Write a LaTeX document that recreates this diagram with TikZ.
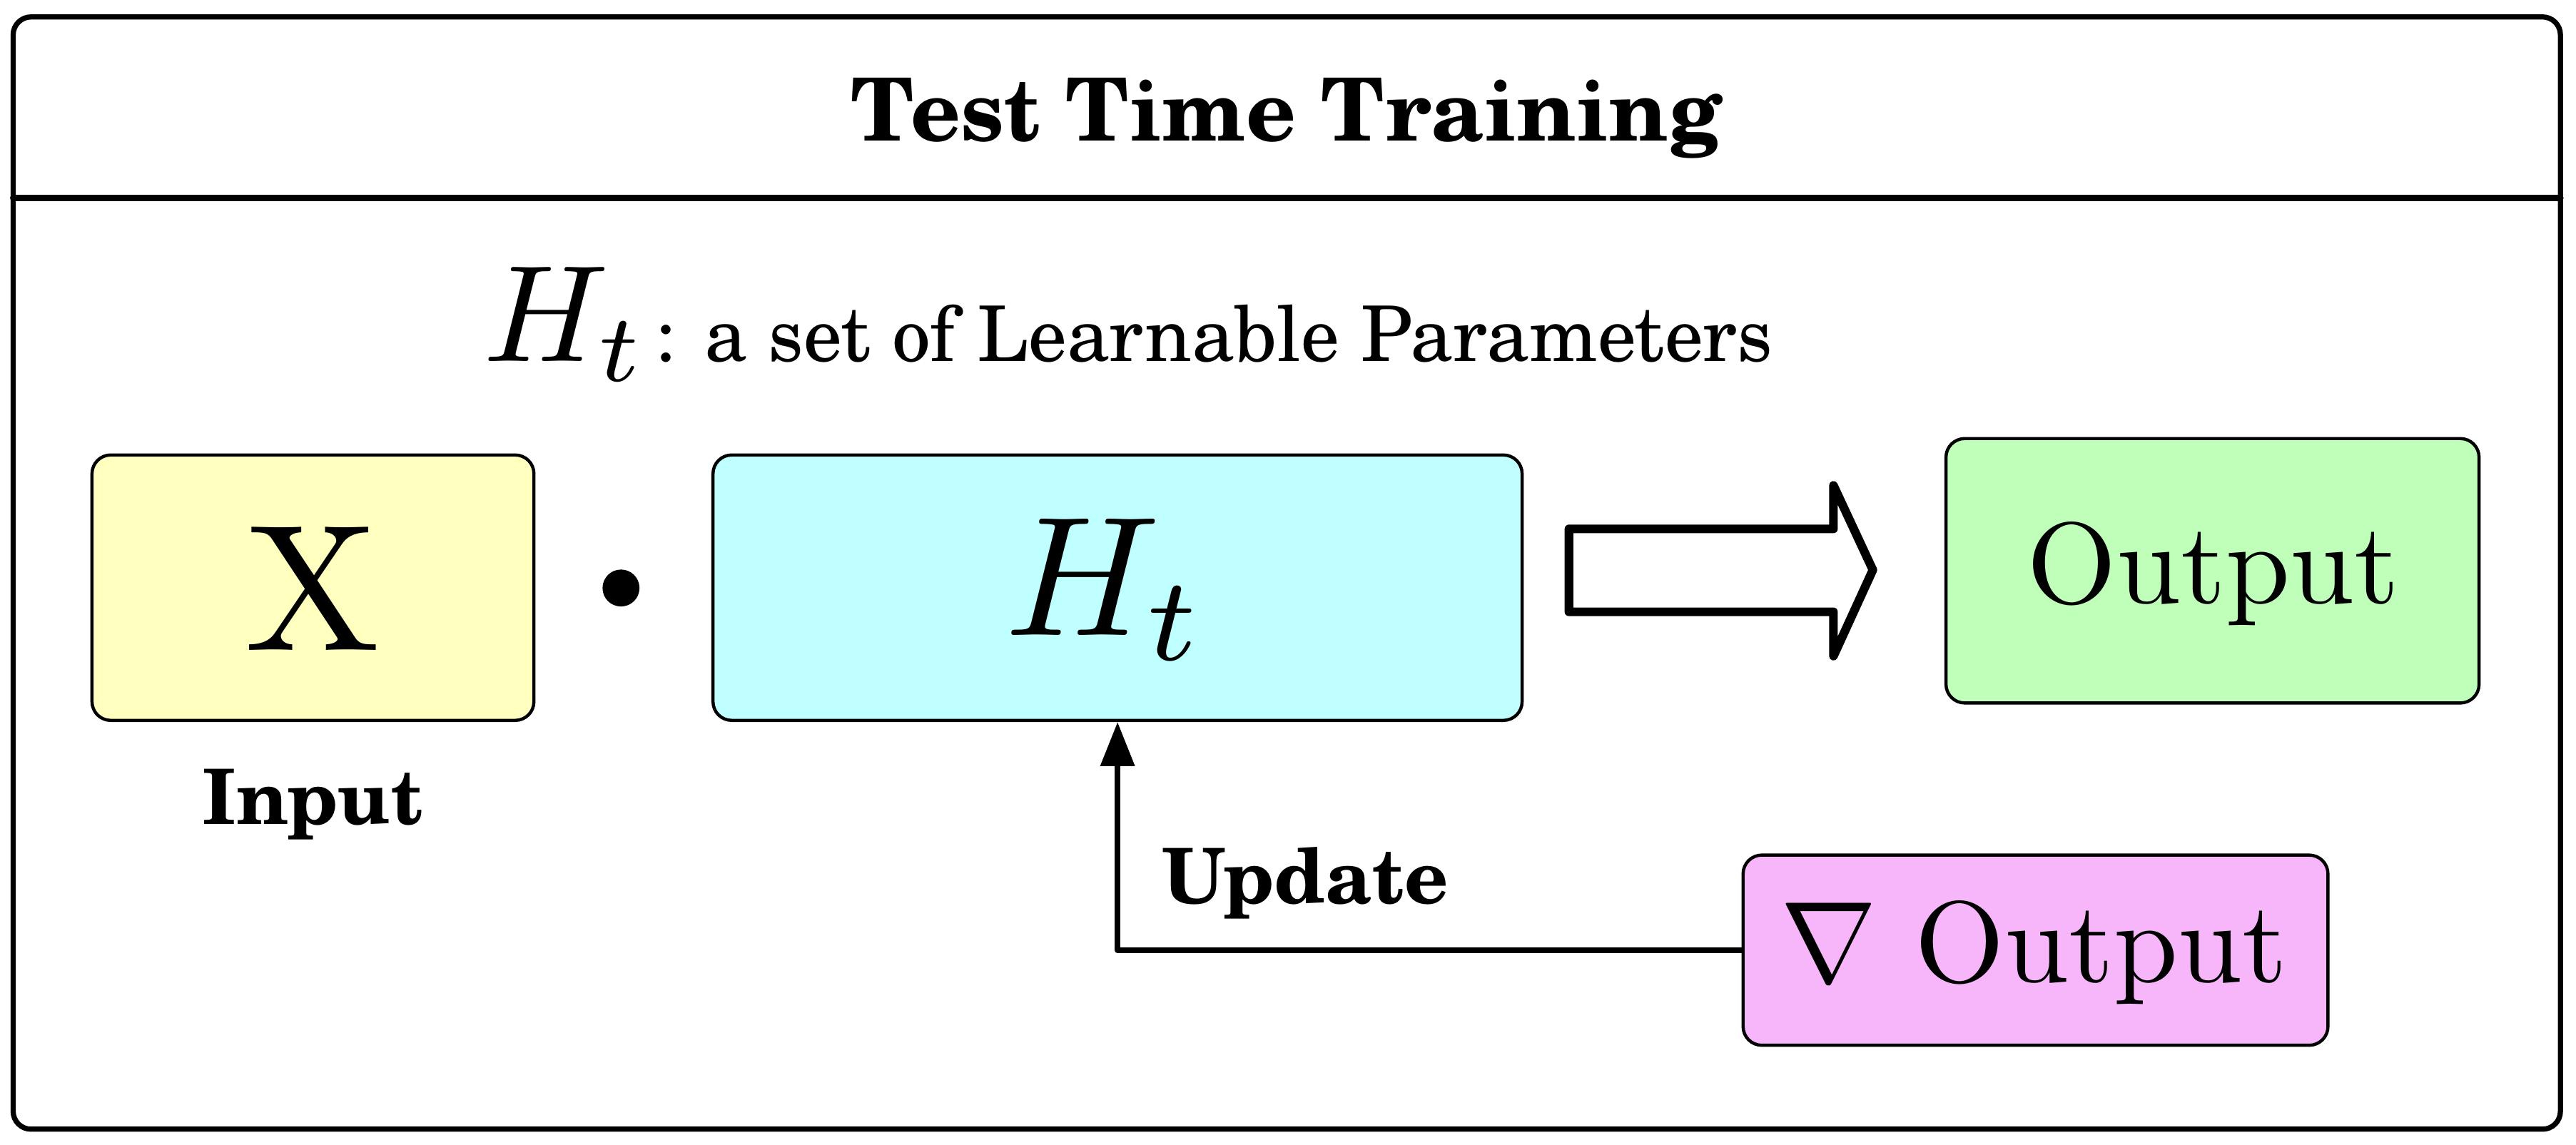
\RequirePackage{fix-cm}
\documentclass[tikz,border=0pt]{standalone}
\usepackage{graphicx}
\usepackage{fontspec}
\newfontfamily\sch{TeX Gyre Schola}
\usetikzlibrary{fit,arrows.meta}
\definecolor{cX}{RGB}{255,255,191}
\definecolor{cH}{RGB}{191,255,255}
\definecolor{cO}{RGB}{191,255,186}
\definecolor{cG}{RGB}{248,182,250}
\newcommand\scaledtxt[2]{\scalebox{#1}{\fontsize{10}{12}\selectfont #2}}
\begin{document}
\begin{tikzpicture}[x=0.02cm,y=-0.02cm,
  box/.style={draw, line width=1.1pt, rounded corners=6.5pt, inner sep=0pt},
  lbl/.style={inner sep=0pt, anchor=base}]
\useasboundingbox (0,0) rectangle (1568,696.7);
% outer frame
\node[draw, line width=1.8pt, rounded corners=6.2pt, inner sep=0pt, fit={(8,10.3) (1558.5,687.5)}] (frame) {};
\coordinate (hl) at (8,120.4);
\coordinate (hr) at (1558.5,120.4);
\draw[line width=2.2pt, line cap=round] (hl) -- (hr);
\node[lbl, font=\sch\bfseries\fontsize{30.2}{36}\selectfont] (title) at (783,85.7) {Test Time Training};
% subtitle
\node[inner sep=0pt, anchor=base west] (sub) at (294,219.8)
  {\scaledtxt{4.77}{$H_t$}\kern 2.8pt{\sch\fontsize{26.6}{32}\selectfont: a set of Learnable Parameters}};
% boxes
\node[box, fill=cX, fit={(56,277) (325,438.6)}] (X) {};
\node[lbl] (Xt) at (190.3,396.0) {\scaledtxt{6.25}{X}};
\node[circle, fill, inner sep=0pt, minimum size=0.45cm] (dot) at (378,358) {};
\node[box, fill=cH, fit={(434,277) (926.5,438.6)}] (Ht) {};
\node[lbl] (Htt) at (673,386.6) {\scaledtxt{5.9}{$H_t$}};
\node[box, fill=cO, fit={(1184.5,267) (1509,428)}] (out) {};
\node[lbl] (outt) at (1347,367.2) {\scaledtxt{4.0}{Output}};
\node[box, fill=cG, fit={(1061,520.6) (1417,636.4)}] (grad) {};
\node[lbl] (gradt) at (1238,598) {\scaledtxt{4.0}{$\nabla$ Output}};
% hollow arrow
\draw[line width=3pt, line join=round] (955,322) -- (1116,322) -- (1116,295.5) -- (1140,347) -- (1116,399.5) -- (1116,372.5) -- (955,372.5) -- cycle;
% labels
\node[lbl, font=\sch\bfseries\fontsize{26.5}{32}\selectfont] (inp) at (190.4,501.7) {Input};
\node[lbl, anchor=base west, font=\sch\bfseries\fontsize{26.5}{32}\selectfont] (upd) at (707,550.2) {Update};
% update connector
\draw[line width=2.1pt, line join=round, -{Triangle[length=15.3pt,width=11.5pt]}] (grad.west) -| (Ht.south);
\end{tikzpicture}
\end{document}
